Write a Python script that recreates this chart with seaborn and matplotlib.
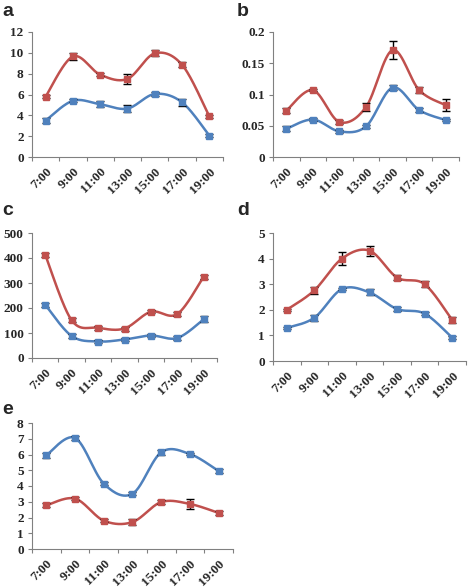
import numpy as np
import pandas as pd
import seaborn as sns
import matplotlib.pyplot as plt

sns.set_theme(style="ticks")
plt.rcParams['font.family'] = ['Liberation Serif', 'DejaVu Serif']

times = ["7:00", "9:00", "11:00", "13:00", "15:00", "17:00", "19:00"]

a_red = [5.8, 9.65, 7.9, 7.5, 9.95, 8.85, 3.9]
a_red_err = [0.15, 0.3, 0.15, 0.45, 0.3, 0.25, 0.15]
a_blue = [3.5, 5.4, 5.06, 4.65, 6.05, 5.25, 2.05]
a_blue_err = [0.2, 0.15, 0.3, 0.35, 0.2, 0.35, 0.15]

b_red = [0.074, 0.107, 0.056, 0.080, 0.171, 0.107, 0.083]
b_red_err = [0.004, 0.002, 0.003, 0.006, 0.015, 0.005, 0.01]
b_blue = [0.045, 0.060, 0.041, 0.049, 0.111, 0.075, 0.059]
b_blue_err = [0.004, 0.003, 0.003, 0.003, 0.004, 0.003, 0.002]

c_red = [413, 151, 121, 118, 185, 176, 326]
c_red_err = [8, 8, 8, 8, 6, 8, 8]
c_blue = [213, 88, 66, 74, 90, 80, 155]
c_blue_err = [8, 8, 6, 6, 6, 8, 12]

d_red = [2.0, 2.76, 4.0, 4.31, 3.26, 3.0, 1.6]
d_red_err = [0.05, 0.15, 0.25, 0.2, 0.1, 0.12, 0.1]
d_blue = [1.29, 1.69, 2.81, 2.68, 2.03, 1.85, 0.91]
d_blue_err = [0.05, 0.12, 0.05, 0.12, 0.07, 0.05, 0.06]

e_blue = [5.95, 7.05, 4.15, 3.51, 6.14, 6.03, 4.95]
e_blue_err = [0.15, 0.1, 0.08, 0.08, 0.15, 0.08, 0.15]
e_red = [2.77, 3.2, 1.8, 1.71, 2.98, 2.86, 2.29]
e_red_err = [0.12, 0.1, 0.1, 0.2, 0.12, 0.3, 0.15]

RED = "#C0504D"
BLUE = "#4F81BD"


def smooth(x, y, n=30):
    # Catmull-Rom style smoothing, like Excel's smoothed line
    p = np.column_stack([x, y]).astype(float)
    p = np.vstack([p[0], p, p[-1]])
    out = []
    t = np.linspace(0, 1, n)[:, None]
    for i in range(1, len(p) - 2):
        p0, p1, p2, p3 = p[i - 1], p[i], p[i + 1], p[i + 2]
        c1 = p1 + (p2 - p0) / 6
        c2 = p2 - (p3 - p1) / 6
        seg = ((1 - t) ** 3) * p1 + 3 * ((1 - t) ** 2) * t * c1 + 3 * (1 - t) * t ** 2 * c2 + t ** 3 * p2
        out.append(seg if i == 1 else seg[1:])
    out = np.vstack(out)
    return out[:, 0], out[:, 1]


def panel(rect, series, ymax, ystep):
    ax = fig.add_axes(rect)
    x = np.arange(len(times))
    for vals, errs, col in series:
        sx, sy = smooth(x, vals)
        sns.lineplot(x=sx, y=sy, ax=ax, color=col, lw=1.8, sort=False)
        ax.errorbar(x, vals, yerr=errs, fmt="s", ms=4, color=col, ecolor="black",
                    elinewidth=1.0, capsize=3, capthick=1.0, zorder=3)
    ax.set_xlim(-0.5, len(times) - 0.5)
    ax.set_ylim(0, ymax)
    yt = np.arange(0, ymax + ystep / 2, ystep)
    ax.set_yticks(yt)
    ax.set_yticklabels([f"{v:g}" for v in yt], fontsize=9.5, fontweight="bold")
    ax.set_xticks(np.arange(-0.5, len(times), 1.0))
    ax.set_xticklabels([])
    ax.set_xticks(x, minor=True)
    ax.set_xticklabels(times, minor=True, rotation=45, ha="right",
                       rotation_mode="anchor", fontsize=9.5, fontweight="bold")
    ax.tick_params(axis="x", which="minor", length=0, pad=6)
    ax.tick_params(axis="both", which="major", length=3, width=0.8, color="#808080")
    ax.tick_params(axis="y", pad=3)
    sns.despine(ax=ax)
    for s in ["left", "bottom"]:
        ax.spines[s].set_color("#808080")
        ax.spines[s].set_linewidth(0.8)
    return ax


fig = plt.figure(figsize=(4.72, 5.87), dpi=100)


def rect(l, t, r, b):
    return [l / 472, 1 - b / 587, (r - l) / 472, (b - t) / 587]


panel(rect(32, 32, 223, 157), [(a_red, a_red_err, RED), (a_blue, a_blue_err, BLUE)], 12, 2)
panel(rect(273, 32, 459, 157), [(b_red, b_red_err, RED), (b_blue, b_blue_err, BLUE)], 0.2, 0.05)
panel(rect(32, 233, 217, 358), [(c_red, c_red_err, RED), (c_blue, c_blue_err, BLUE)], 500, 100)
panel(rect(273, 233, 466, 361), [(d_red, d_red_err, RED), (d_blue, d_blue_err, BLUE)], 5, 1)
panel(rect(32, 423, 233, 549), [(e_red, e_red_err, RED), (e_blue, e_blue_err, BLUE)], 8, 1)

for letter, px, py in [("a", 2, 11), ("b", 237, 11), ("c", 2, 211), ("d", 237, 211), ("e", 2, 409)]:
    fig.text(px / 472, 1 - py / 587, letter, fontsize=14, fontweight="bold",
             family=["Liberation Sans", "DejaVu Sans"], va="center", ha="left")

fig.savefig("out.png", dpi=100)
